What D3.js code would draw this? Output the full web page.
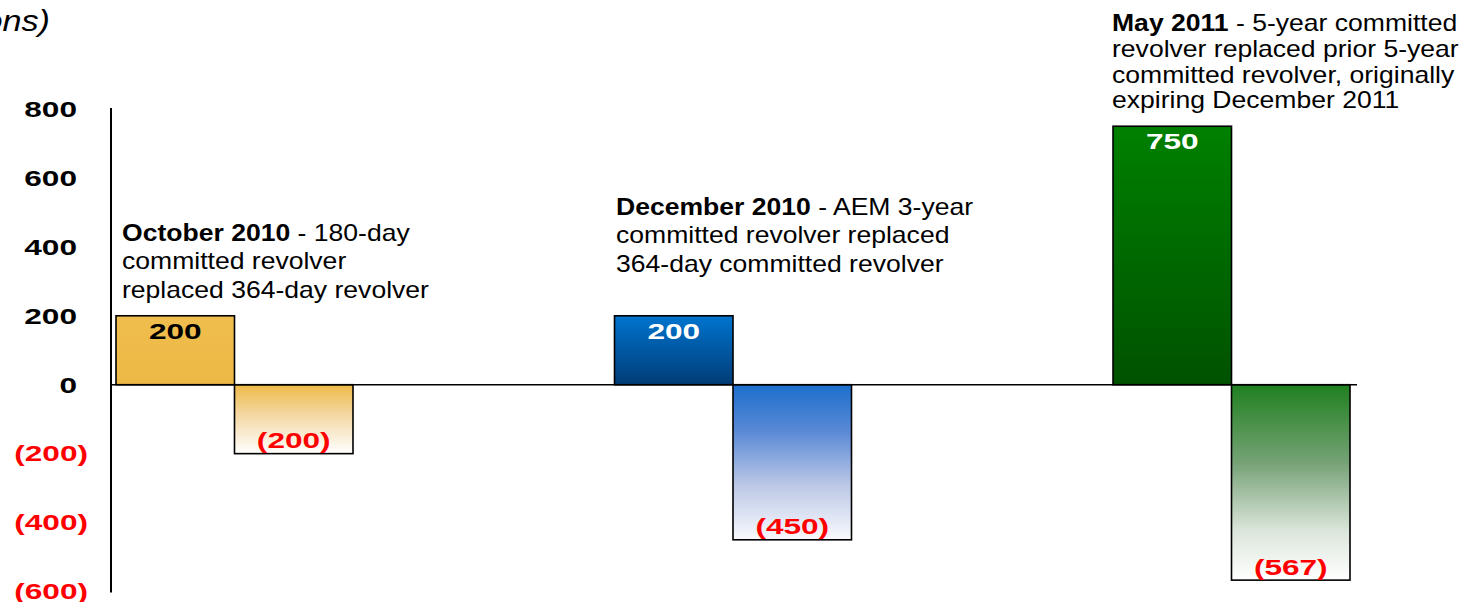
<!DOCTYPE html>
<html>
<head>
<meta charset="utf-8">
<script src="https://cdn.jsdelivr.net/npm/d3@7"></script>
<style>
  body { margin: 0; background: #fff; }
  svg { display: block; }
  text { font-family: "Liberation Sans", Arial, sans-serif; }
</style>
</head>
<body>
<div id="chart"></div>
<script>
// dados (milhões)
const periods = ["October 2010", "December 2010", "May 2011"];
const added = [200, 200, 750];          // novo revolver
const replaced = [-200, -450, -567];    // revolver substituído
const yTicks = [800, 600, 400, 200, 0, -200, -400, -600];

// notas por cima de cada grupo
const noteBold = ["October 2010", "December 2010", "May 2011"];
const noteLines = [
  [" - 180-day", "committed revolver", "replaced 364-day revolver"],
  [" - AEM 3-year", "committed revolver replaced", "364-day committed revolver"],
  [" - 5-year committed", "revolver replaced prior 5-year", "committed revolver, originally", "expiring December 2011"]
];

const width = 1463, height = 602;

const svg = d3.select("#chart").append("svg")
  .attr("width", width)
  .attr("height", height);

// cores: [topo, base] das barras positivas e stops das negativas
const palette = [
  { pos: ["#F0BE4E", "#ECB845"], neg: [["0", "#EEBA48"], ["0.45", "#F4D9A6"], ["1", "#FFFFFF"]], label: "#000" },
  { pos: ["#0074CE", "#003C76"], neg: [["0", "#1C6FCC"], ["0.3", "#5A89D6"], ["0.65", "#BCC8E6"], ["1", "#F9FAFE"]], label: "#fff" },
  { pos: ["#008000", "#005200"], neg: [["0", "#1F801F"], ["0.4", "#76A276"], ["0.75", "#DCE6DC"], ["1", "#FFFFFF"]], label: "#fff" }
];

const defs = svg.append("defs");
palette.forEach(function (p, i) {
  let g1 = defs.append("linearGradient").attr("id", "pos" + i)
    .attr("x1", 0).attr("y1", 0).attr("x2", 0).attr("y2", 1);
  g1.append("stop").attr("offset", "0").attr("stop-color", p.pos[0]);
  g1.append("stop").attr("offset", "1").attr("stop-color", p.pos[1]);
  let g2 = defs.append("linearGradient").attr("id", "neg" + i)
    .attr("x1", 0).attr("y1", 0).attr("x2", 0).attr("y2", 1);
  p.neg.forEach(function (s) {
    g2.append("stop").attr("offset", s[0]).attr("stop-color", s[1]);
  });
});

// escalas
const y = d3.scaleLinear().domain([-600, 800]).range([591.5, 109]);
const x = d3.scaleBand().domain(periods).range([116, 1350])
  .paddingInner(0.5246).paddingOuter(0).align(0);
const xs = d3.scaleBand().domain(["added", "replaced"]).range([0, x.bandwidth()]);

const fmt = function (v) { return v < 0 ? "(" + Math.abs(v) + ")" : String(v); };
const numScale = "scale(1.47,1)";

// eixo y: linha + etiquetas
svg.append("line")
  .attr("x1", 111).attr("x2", 111)
  .attr("y1", y(800) - 1).attr("y2", y(-600) + 1)
  .attr("stroke", "#000").attr("stroke-width", 2);

svg.selectAll("text.tick").data(yTicks).enter()
  .append("text")
  .attr("class", "tick")
  .attr("transform", d => "translate(" + (d < 0 ? 88 : 77) + "," + (y(d) + 7.8) + ") " + numScale)
  .attr("text-anchor", "end")
  .attr("font-size", 21.5)
  .attr("font-weight", "bold")
  .attr("fill", d => d < 0 ? "#FF0000" : "#000")
  .text(fmt);

// barras
const groups = svg.selectAll("g.grp").data(periods).enter()
  .append("g")
  .attr("class", "grp")
  .attr("transform", d => "translate(" + x(d) + ",0)");

groups.append("rect")
  .attr("x", xs("added"))
  .attr("width", xs.bandwidth())
  .attr("y", (d, i) => y(added[i]))
  .attr("height", (d, i) => y(0) - y(added[i]))
  .attr("fill", (d, i) => "url(#pos" + i + ")")
  .attr("stroke", "#000").attr("stroke-width", 1.6);

groups.append("rect")
  .attr("x", xs("replaced"))
  .attr("width", xs.bandwidth())
  .attr("y", y(0))
  .attr("height", (d, i) => y(replaced[i]) - y(0))
  .attr("fill", (d, i) => "url(#neg" + i + ")")
  .attr("stroke", "#000").attr("stroke-width", 1.6);

// linha do zero
svg.append("line")
  .attr("x1", 111).attr("x2", 1357)
  .attr("y1", y(0)).attr("y2", y(0))
  .attr("stroke", "#000").attr("stroke-width", 1.6);

// valores nas barras
groups.append("text")
  .attr("transform", (d, i) => "translate(" + (xs("added") + xs.bandwidth() / 2) + "," + (y(added[i]) + 23) + ") " + numScale)
  .attr("text-anchor", "middle")
  .attr("font-size", 21.5)
  .attr("font-weight", "bold")
  .attr("fill", (d, i) => palette[i].label)
  .text((d, i) => fmt(added[i]));

groups.append("text")
  .attr("transform", (d, i) => "translate(" + (xs("replaced") + xs.bandwidth() / 2) + "," + (y(replaced[i]) - 5.5) + ") " + numScale)
  .attr("text-anchor", "middle")
  .attr("font-size", 21.5)
  .attr("font-weight", "bold")
  .attr("fill", "#FF0000")
  .text((d, i) => fmt(replaced[i]));

// notas (x, baseline da 1a linha, espaçamento)
const noteLayout = [[122, 241, 28.5], [616, 215, 28.5], [1112, 31, 25.8]];
noteLayout.forEach(function (l, i) {
  let t = svg.append("text")
    .attr("transform", "translate(" + l[0] + "," + l[1] + ") scale(1.155,1)")
    .attr("font-size", 23)
    .attr("fill", "#000");
  let first = t.append("tspan").attr("x", 0).attr("y", 0);
  first.append("tspan").attr("font-weight", "bold").text(noteBold[i]);
  first.append("tspan").text(noteLines[i][0]);
  noteLines[i].slice(1).forEach(function (line, k) {
    t.append("tspan").attr("x", 0).attr("y", (k + 1) * l[2]).text(line);
  });
});

// título cortado no canto
svg.append("text")
  .attr("transform", "translate(50,31) scale(1.14,1)")
  .attr("text-anchor", "end")
  .attr("font-size", 30)
  .attr("font-style", "italic")
  .text("(US$ in millions)");
</script>
</body>
</html>
